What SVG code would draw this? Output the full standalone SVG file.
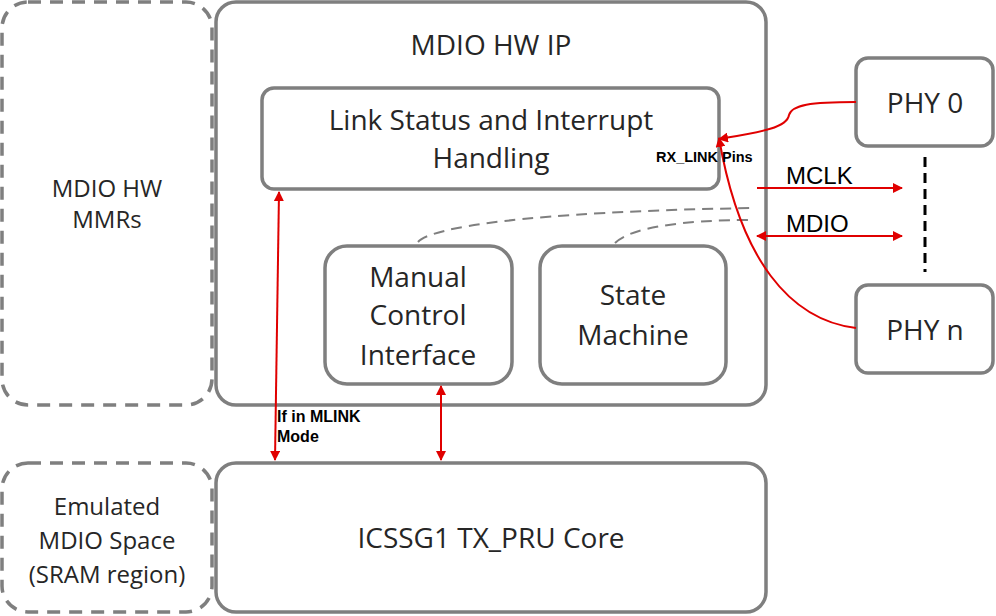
<svg xmlns="http://www.w3.org/2000/svg" width="996" height="616" viewBox="0 0 996 616">
<defs>
<marker id="ah" markerWidth="10" markerHeight="10" refX="9" refY="5" orient="auto-start-reverse" markerUnits="userSpaceOnUse">
<path d="M0,0 L10,5 L0,10 z" fill="#e00000"/>
</marker>
<style>
.box{fill:#fff;stroke:#7f7f7f;stroke-width:3.5}
.dbox{fill:#fff;stroke:#7f7f7f;stroke-width:3.5;stroke-dasharray:13 9}
.t{font-family:"Open Sans","Noto Sans",sans-serif;fill:#262626;text-anchor:middle}
.red{fill:none;stroke:#e00000;stroke-width:2}
.gd{fill:none;stroke:#7f7f7f;stroke-width:2;stroke-dasharray:11 7}
.lab{font-family:"Liberation Sans",Arial,sans-serif;fill:#000}
.b{font-weight:bold}
</style>
</defs>
<g id="mmrs"><rect class="dbox" x="2" y="2" width="210" height="403" rx="26"/>
<text class="t" font-size="24" x="107" y="197">MDIO HW</text><text class="t" font-size="24" x="107" y="228">MMRs</text></g>
<g id="hwip"><rect class="box" x="216" y="2" width="550" height="403" rx="20"/>
<text class="t" font-size="28" x="491" y="55">MDIO HW IP</text></g>
<g id="link"><rect class="box" x="262" y="88" width="457" height="101" rx="12"/>
<text class="t" font-size="28" x="491" y="130">Link Status and Interrupt</text><text class="t" font-size="28" x="491" y="168">Handling</text></g>
<g id="manual"><rect class="box" x="325" y="246" width="187" height="138" rx="22"/>
<text class="t" font-size="28" x="418" y="287">Manual</text><text class="t" font-size="28" x="418" y="325">Control</text><text class="t" font-size="28" x="418" y="365">Interface</text></g>
<g id="sm"><rect class="box" x="540" y="246" width="186" height="138" rx="22"/>
<text class="t" font-size="28" x="633" y="305">State</text><text class="t" font-size="28" x="633" y="345">Machine</text></g>
<g id="phy0"><rect class="box" x="856" y="58" width="137" height="88" rx="12"/>
<text class="t" font-size="28" x="925" y="113">PHY 0</text></g>
<g id="phyn"><rect class="box" x="856" y="285" width="137" height="88" rx="12"/>
<text class="t" font-size="28" x="925" y="340">PHY n</text></g>
<g id="emu"><rect class="dbox" x="2" y="463" width="210" height="149" rx="26"/>
<text class="t" font-size="24" x="107" y="515">Emulated</text><text class="t" font-size="24" x="107" y="549">MDIO Space</text><text class="t" font-size="24" x="107" y="583">(SRAM region)</text></g>
<g id="core"><rect class="box" x="216" y="463" width="550" height="149" rx="20"/>
<text class="t" font-size="28" x="491" y="548">ICSSG1 TX_PRU Core</text></g>
<g id="connectors">
<path class="gd" d="M418,242 C430,228 520,212 752,208"/>
<path class="gd" d="M615,243 C630,228 680,220 752,220"/>
<line x1="925" y1="157" x2="925" y2="272" stroke="#000" stroke-width="3" stroke-dasharray="10 6"/>
<line class="red" x1="757" y1="188" x2="902" y2="188" marker-end="url(#ah)"/>
<line class="red" x1="757" y1="236" x2="902" y2="236" marker-start="url(#ah)" marker-end="url(#ah)"/>
<path class="red" d="M856,102 C810,102 792,105 789,115 C787,128 760,132 719,139" marker-end="url(#ah)"/>
<path class="red" d="M856,328 C790,320 740,260 719,138" marker-end="url(#ah)"/>
<line class="red" x1="275" y1="460" x2="279" y2="192" marker-start="url(#ah)" marker-end="url(#ah)"/>
<line class="red" x1="441" y1="386" x2="441" y2="460" marker-start="url(#ah)" marker-end="url(#ah)"/>
<text class="lab b" font-size="14.5" x="656" y="162">RX_LINK Pins</text>
<text class="lab" font-size="24" x="786" y="184">MCLK</text>
<text class="lab" font-size="24" x="786" y="232">MDIO</text>
<text class="lab b" font-size="16" x="277" y="422">If in MLINK</text>
<text class="lab b" font-size="16" x="277" y="442">Mode</text>
</g>
</svg>
